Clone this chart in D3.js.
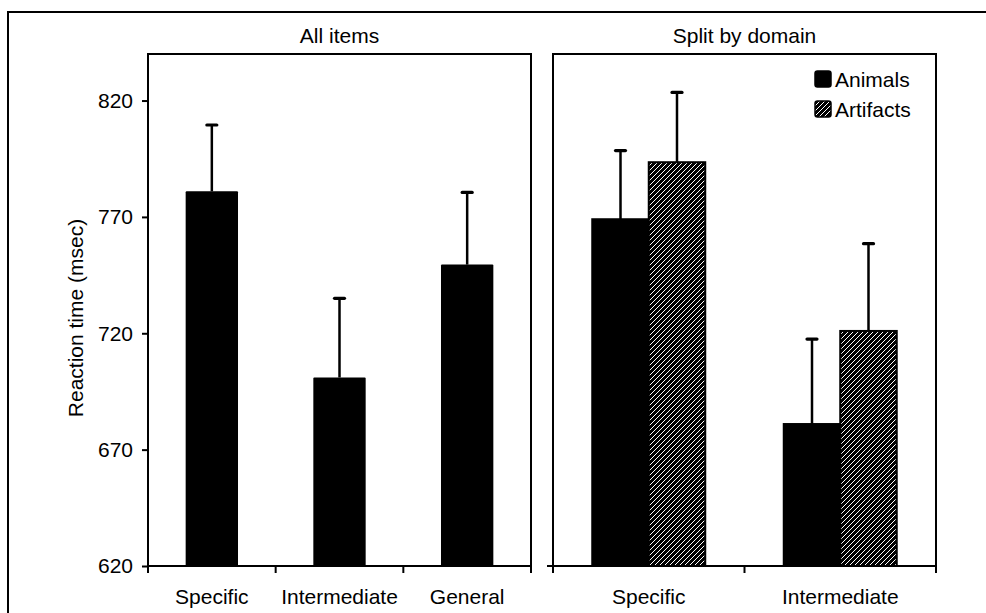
<!DOCTYPE html>
<html>
<head>
<meta charset="utf-8">
<script src="https://cdn.jsdelivr.net/npm/d3@7"></script>
<style>
  html, body { margin: 0; padding: 0; background: #fff; }
  svg { display: block; }
</style>
</head>
<body>
<svg id="chart" width="986" height="613"></svg>
<script>
// Reaction time by level — all items vs split by domain.

const levels = ["Specific", "Intermediate", "General"];
const allMeans = [781, 701, 749.5];
const allErr = [28.5, 34, 31];

const splitLevels = ["Specific", "Intermediate"];
const domains = ["Animals", "Artifacts"];
const animalMeans = [769, 681];
const animalErr = [29.5, 36.5];
const artifactMeans = [793.5, 721];
const artifactErr = [30, 37.5];

const yTicks = [620, 670, 720, 770, 820];

const TOP = 54, BOTTOM = 566;
const LEFT_P = [148, 531], RIGHT_P = [553, 936];
const FONT = "21px 'Liberation Sans', Arial, Helvetica, sans-serif";

const svg = d3.select("#chart");

// black fill with thin white "/" stripes
const defs = svg.append("defs");
const pat = defs.append("pattern").attr("id", "hatch")
  .attr("patternUnits", "userSpaceOnUse")
  .attr("width", 5).attr("height", 5);
pat.append("rect").attr("width", 5).attr("height", 5).attr("fill", "#000");
pat.append("path").attr("d", "M-1,6 L6,-1 M-1,1 L1,-1 M4,6 L6,4")
  .attr("stroke", "#fff").attr("stroke-width", 1.1).attr("shape-rendering", "crispEdges");

// outer frame
svg.append("rect").attr("x", 8).attr("y", 12).attr("width", 1100).attr("height", 800)
  .attr("fill", "none").attr("stroke", "#000").attr("stroke-width", 2);

const y = d3.scaleLinear().domain([620, 840]).range([BOTTOM, TOP]);

function panelFrame(x0, x1, title) {
  const g = svg.append("g");
  g.append("rect").attr("x", x0).attr("y", TOP).attr("width", x1 - x0).attr("height", BOTTOM - TOP)
    .attr("fill", "none").attr("stroke", "#000").attr("stroke-width", 2);
  g.append("text").attr("x", (x0 + x1) / 2).attr("y", 43).attr("text-anchor", "middle")
    .style("font", FONT).style("fill", "#000").text(title);
  return g;
}

function errBars(g, data) {
  g.selectAll(null).data(data).enter().append("line")
    .attr("x1", (d) => d.x).attr("x2", (d) => d.x)
    .attr("y1", (d) => y(d.mean)).attr("y2", (d) => y(d.mean + d.err))
    .attr("stroke", "#000").attr("stroke-width", 2.5);
  g.selectAll(null).data(data).enter().append("line")
    .attr("x1", (d) => d.x - 5).attr("x2", (d) => d.x + 5)
    .attr("y1", (d) => y(d.mean + d.err)).attr("y2", (d) => y(d.mean + d.err))
    .attr("stroke", "#000").attr("stroke-width", 3.2).attr("stroke-linecap", "round");
}

function bottomTicks(g, x0, x1, n, labels, centers) {
  const edges = d3.range(n + 1).map((i) => x0 + (x1 - x0) * i / n);
  g.selectAll(null).data(edges).enter().append("line")
    .attr("x1", (d) => d).attr("x2", (d) => d).attr("y1", BOTTOM).attr("y2", BOTTOM + 7)
    .attr("stroke", "#000").attr("stroke-width", 2);
  g.selectAll(null).data(labels).enter().append("text")
    .attr("x", (d, i) => centers[i]).attr("y", 604).attr("text-anchor", "middle")
    .style("font", FONT).style("fill", "#000").text((d) => d);
}

// ---- left panel: all items
const gL = panelFrame(LEFT_P[0], LEFT_P[1], "All items");
const xL = d3.scaleBand().domain(levels).range(LEFT_P).paddingInner(0.59).paddingOuter(0.295);

gL.append("g").attr("transform", `translate(${LEFT_P[0]},0)`)
  .call(d3.axisLeft(y).tickValues(yTicks).tickSize(6).tickPadding(9).tickFormat(d3.format("d")))
  .call((s) => s.select(".domain").remove())
  .call((s) => s.selectAll("line").attr("stroke", "#000").attr("stroke-width", 2))
  .call((s) => s.selectAll("text").style("font", FONT).style("fill", "#000"));

gL.selectAll("rect.bar").data(levels).enter().append("rect").attr("class", "bar")
  .attr("x", (d) => xL(d)).attr("width", xL.bandwidth())
  .attr("y", (d, i) => y(allMeans[i])).attr("height", (d, i) => BOTTOM - y(allMeans[i]))
  .attr("rx", 1).attr("fill", "#000");

errBars(gL, levels.map((d, i) => ({ x: xL(d) + xL.bandwidth() / 2, mean: allMeans[i], err: allErr[i] })));
bottomTicks(gL, LEFT_P[0], LEFT_P[1], levels.length, levels,
  levels.map((d) => xL(d) + xL.bandwidth() / 2));

svg.append("text")
  .attr("transform", `translate(83,${(TOP + BOTTOM) / 2 + 8}) rotate(-90)`)
  .attr("text-anchor", "middle")
  .style("font", FONT).style("fill", "#000")
  .text("Reaction time (msec)");

// ---- right panel: split by domain
const gR = panelFrame(RIGHT_P[0], RIGHT_P[1], "Split by domain");
const x0R = d3.scaleBand().domain(splitLevels).range(RIGHT_P).paddingInner(0.41).paddingOuter(0.205);
const x1R = d3.scaleBand().domain(domains).range([0, x0R.bandwidth()]);

gR.append("line").attr("x1", RIGHT_P[0] - 6).attr("x2", RIGHT_P[0])
  .attr("y1", y(620)).attr("y2", y(620)).attr("stroke", "#000").attr("stroke-width", 2);

const splitData = [];
splitLevels.forEach((lv, i) => {
  splitData.push({ level: lv, domain: "Animals", mean: animalMeans[i], err: animalErr[i] });
  splitData.push({ level: lv, domain: "Artifacts", mean: artifactMeans[i], err: artifactErr[i] });
});

gR.selectAll("rect.bar").data(splitData).enter().append("rect").attr("class", "bar")
  .attr("x", (d) => x0R(d.level) + x1R(d.domain)).attr("width", x1R.bandwidth())
  .attr("y", (d) => y(d.mean)).attr("height", (d) => BOTTOM - y(d.mean))
  .attr("fill", (d) => d.domain === "Animals" ? "#000" : "url(#hatch)")
  .attr("stroke", "#000").attr("stroke-width", 2);

errBars(gR, splitData.map((d) => ({
  x: x0R(d.level) + x1R(d.domain) + x1R.bandwidth() / 2, mean: d.mean, err: d.err,
})));
bottomTicks(gR, RIGHT_P[0], RIGHT_P[1], splitLevels.length, splitLevels,
  splitLevels.map((d) => x0R(d) + x0R.bandwidth() / 2));

// legend
const leg = gR.append("g").attr("transform", "translate(815,71)");
leg.selectAll("g").data(domains).enter().append("g")
  .attr("transform", (d, i) => `translate(0,${i * 30})`)
  .each(function (d) {
    const gi = d3.select(this);
    gi.append("rect").attr("width", 16).attr("height", 16).attr("rx", 2.5)
      .attr("fill", d === "Animals" ? "#000" : "url(#hatch)").attr("stroke", "#000").attr("stroke-width", 1.5);
    gi.append("text").attr("x", 20).attr("y", 16)
      .style("font", FONT).style("fill", "#000").text(d);
  });
</script>
</body>
</html>
